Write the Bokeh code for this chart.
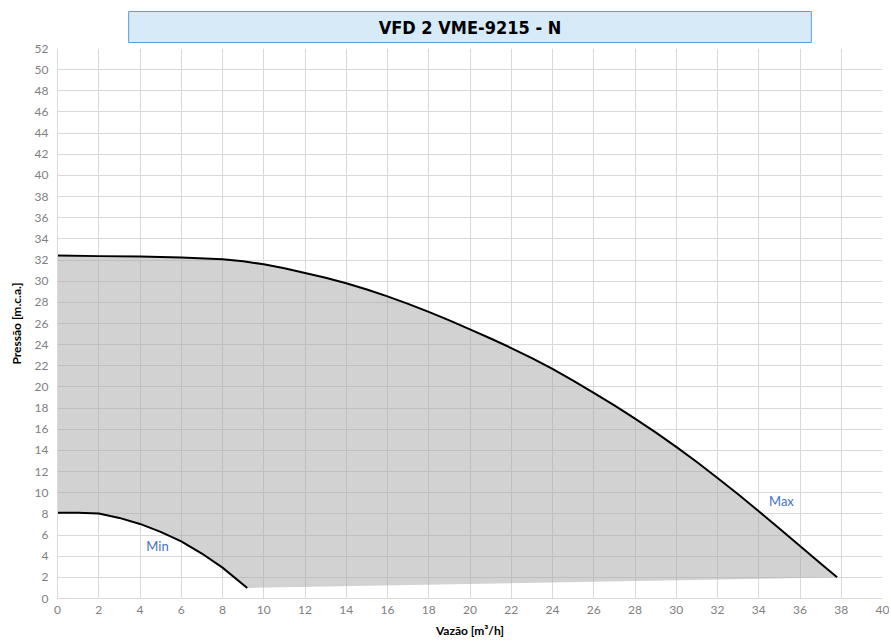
from bokeh.plotting import figure
from bokeh.models import Range1d, FixedTicker, Label
from bokeh.embed import file_html
from bokeh.resources import INLINE

title_text = "VFD 2 VME-9215 - N"
x_label = "Vazão [m³/h]"
y_label = "Pressão [m.c.a.]"

x_ticks = [0, 2, 4, 6, 8, 10, 12, 14, 16, 18, 20, 22, 24, 26, 28, 30, 32, 34, 36, 38, 40]
y_ticks = [0, 2, 4, 6, 8, 10, 12, 14, 16, 18, 20, 22, 24, 26, 28, 30, 32, 34, 36, 38, 40,
           42, 44, 46, 48, 50, 52]

max_q = [0, 2, 4, 6, 8, 9, 10, 11, 12, 13, 14, 15, 16, 17, 18, 19, 20, 21, 22, 23, 24,
         25, 26, 27, 28, 29, 30, 31, 32, 33, 34, 35, 36, 37, 37.8]
max_h = [32.43, 32.37, 32.33, 32.24, 32.08, 31.88, 31.6, 31.22, 30.78, 30.32, 29.8, 29.22,
         28.56, 27.86, 27.1, 26.3, 25.45, 24.58, 23.68, 22.73, 21.7, 20.6, 19.45, 18.25,
         17.0, 15.7, 14.34, 12.9, 11.4, 9.85, 8.25, 6.62, 4.97, 3.3, 2.0]

min_q = [0, 1, 2, 3, 4, 5, 6, 7, 8, 9.2]
min_h = [8.1, 8.1, 8.03, 7.62, 7.05, 6.3, 5.4, 4.25, 2.92, 1.0]

base_q = [9.2, 37.8]
base_h = [1.0, 2.0]

W, H = 889, 640
L, T, FW, FH = 57, 48, 825, 550
p = figure(width=W, height=H, output_backend="svg", toolbar_location=None,
           x_range=Range1d(0, 40), y_range=Range1d(0, 52),
           min_border_left=L, min_border_right=W - L - FW,
           min_border_top=T, min_border_bottom=H - T - FH)
p.outline_line_color = None
p.background_fill_color = "white"
p.border_fill_color = "white"

# title
p.title.text = title_text
p.title.align = "center"
p.title.text_font = "'DejaVu Sans Condensed', 'Liberation Sans Narrow', Roboto"
p.title.text_font_style = "bold"
p.title.text_font_size = "18px"
p.title.text_color = "black"
p.title.background_fill_color = "#d6eaf8"
p.title.border_line_color = "#5b9bd5"
p.title.border_line_width = 1
p.title.padding = (250, 5)
p.title.standoff = 12
p.title.offset = 2

# fill region
poly_x = [0] + max_q + base_q[::-1][1:] + min_q[::-1]
poly_y = [max_h[0]] + max_h + base_h[::-1][1:] + min_h[::-1]
p.patch(poly_x, poly_y, fill_color="#a6a6a6", fill_alpha=0.5, line_color=None)

p.line(max_q, max_h, line_color="black", line_width=2, line_join="round")
p.line(min_q, min_h, line_color="black", line_width=2, line_join="round")

# grid
for g in (p.xgrid, p.ygrid):
    g.grid_line_color = "#d9d9d9"
    g.grid_line_width = 1
p.xgrid.ticker = FixedTicker(ticks=x_ticks)
p.ygrid.ticker = FixedTicker(ticks=y_ticks)

font = "Lato"
for ax in (p.xaxis[0], p.yaxis[0]):
    ax.major_tick_line_color = None
    ax.minor_tick_line_color = None
    ax.major_tick_out = 0
    ax.major_tick_in = 0
    ax.major_label_text_font = font
    ax.major_label_text_font_size = "12px"
    ax.major_label_text_color = "#808080"
    ax.axis_label_text_font = font
    ax.axis_label_text_font_style = "bold"
    ax.axis_label_text_font_size = "12px"
    ax.axis_label_text_color = "black"
p.xaxis[0].ticker = FixedTicker(ticks=x_ticks)
p.yaxis[0].ticker = FixedTicker(ticks=y_ticks)
p.xaxis[0].axis_line_color = "#d9d9d9"
p.yaxis[0].axis_line_color = "#d9d9d9"
p.xaxis[0].axis_label = x_label
p.yaxis[0].axis_label = y_label
p.xaxis[0].major_label_standoff = 7
p.yaxis[0].major_label_standoff = 9
p.xaxis[0].axis_label_standoff = 6
p.yaxis[0].axis_label_standoff = 8

# labels
p.add_layout(Label(x=4.85, y=4.96, text="Min", text_color="#4472c4", text_font=font,
                   text_font_size="13px", text_align="center", text_baseline="middle"))
p.add_layout(Label(x=35.1, y=9.2, text="Max", text_color="#4472c4", text_font=font,
                   text_font_size="13px", text_align="center", text_baseline="middle"))

open("out.html", "w").write(file_html(p, INLINE))
